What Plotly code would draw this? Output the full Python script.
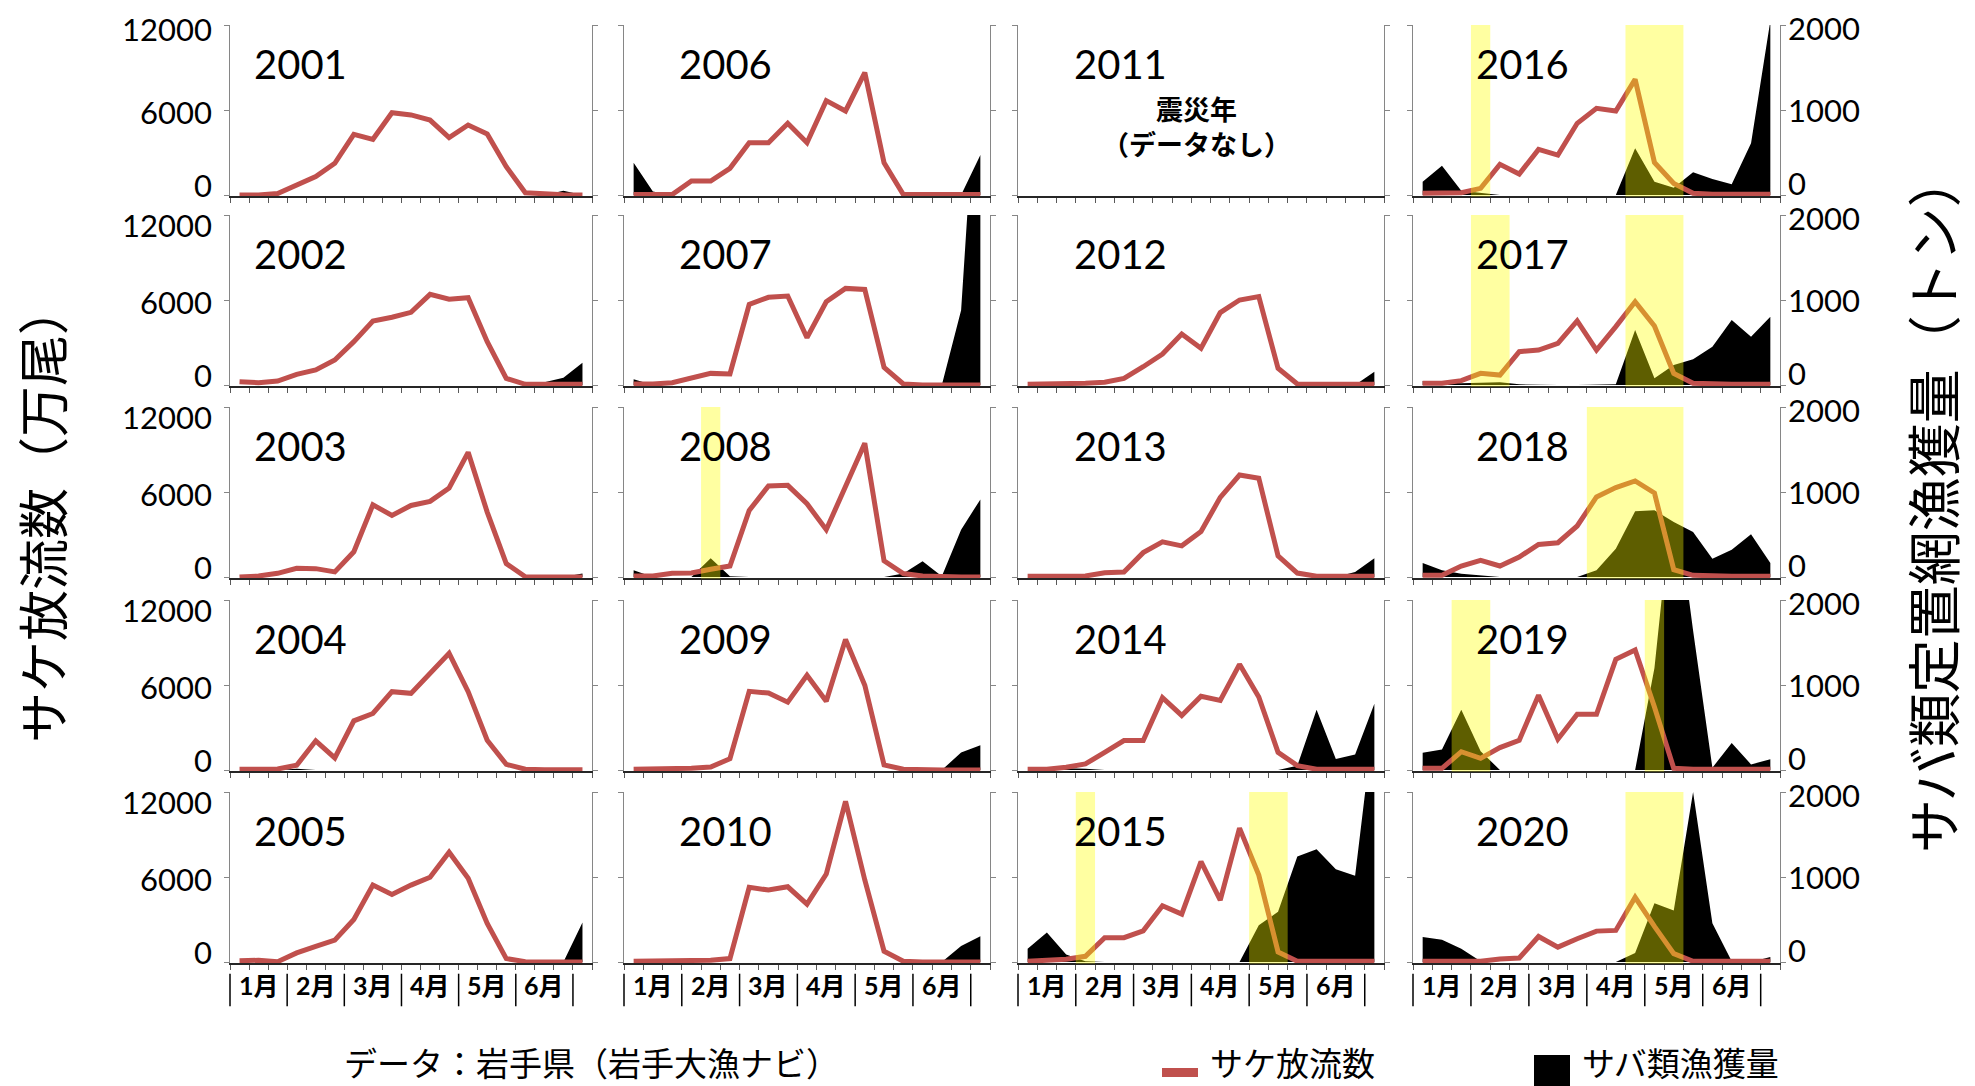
import plotly.graph_objects as go

# ---------------- data ----------------
# 19 ten-day periods: 1月上旬 ... 6月下旬, 7月上旬
categories = list(range(19))
month_labels = ["1月", "2月", "3月", "4月", "5月", "6月"]

salmon_2001 = [0, 0, 100, 700, 1300, 2240, 4280, 3930, 5810, 5650, 5290, 4050, 4940, 4310, 2000, 160, 70, 20, 0]
mackerel_2001 = [0, 0, 0, 0, 0, 0, 0, 0, 0, 0, 0, 0, 0, 0, 0, 0, 0, 50, 0]
salmon_2002 = [235, 165, 280, 750, 1060, 1760, 3060, 4520, 4780, 5130, 6400, 6050, 6160, 3060, 470, 50, 50, 50, 50]
mackerel_2002 = [0, 0, 0, 0, 0, 0, 0, 0, 0, 0, 0, 0, 0, 0, 0, 0, 31, 86, 263]
salmon_2003 = [0, 70, 260, 620, 590, 360, 1780, 5100, 4340, 5050, 5340, 6280, 8800, 4580, 950, 20, 0, 0, 0]
mackerel_2003 = [0, 0, 0, 0, 0, 0, 0, 0, 0, 0, 0, 0, 0, 0, 0, 0, 0, 0, 40]
salmon_2004 = [50, 90, 70, 330, 2060, 850, 3470, 3990, 5530, 5410, 6830, 8240, 5530, 2100, 400, 50, 20, 20, 20]
mackerel_2004 = [0, 0, 0, 15, 0, 0, 0, 0, 0, 0, 0, 0, 0, 0, 0, 0, 0, 0, 0]
salmon_2005 = [95, 120, 25, 640, 1110, 1540, 3000, 5430, 4770, 5430, 5980, 7750, 5910, 2720, 240, 25, 0, 0, 0]
mackerel_2005 = [0, 0, 0, 0, 0, 0, 0, 0, 0, 0, 0, 0, 0, 0, 0, 0, 0, 0, 465]

salmon_2006 = [30, 30, 30, 990, 990, 1880, 3690, 3690, 5060, 3690, 6660, 5930, 8640, 2280, 30, 30, 30, 30, 30]
mackerel_2006 = [380, 40, 0, 0, 0, 0, 0, 0, 0, 0, 0, 0, 0, 0, 0, 0, 0, 0, 470]
salmon_2007 = [70, 70, 165, 470, 820, 780, 5690, 6190, 6280, 3340, 5880, 6820, 6750, 1250, 70, 0, 0, 0, 0]
mackerel_2007 = [67, 0, 0, 0, 0, 0, 0, 0, 0, 0, 0, 0, 0, 0, 0, 0, 0, 880, 4380]
salmon_2008 = [70, 70, 260, 280, 545, 780, 4700, 6430, 6470, 5170, 3340, 6360, 9440, 1140, 240, 70, 0, 0, 0]
mackerel_2008 = [79, 0, 0, 0, 221, 10, 0, 0, 0, 0, 0, 0, 0, 0, 40, 186, 10, 557, 913]
salmon_2009 = [50, 50, 120, 120, 210, 800, 5550, 5430, 4790, 6690, 4860, 9220, 5980, 360, 50, 0, 0, 0, 0]
mackerel_2009 = [0, 0, 0, 0, 0, 0, 0, 0, 0, 0, 0, 0, 0, 0, 0, 0, 0, 205, 292]
salmon_2010 = [50, 50, 50, 50, 120, 240, 5270, 5080, 5310, 4090, 6210, 11340, 5790, 760, 50, 0, 0, 0, 0]
mackerel_2010 = [0, 0, 0, 0, 0, 0, 0, 0, 0, 0, 0, 0, 0, 0, 0, 0, 0, 189, 303]

salmon_2011 = []          # 震災年（データなし）
mackerel_2011 = []
salmon_2012 = [50, 50, 118, 118, 190, 470, 1290, 2190, 3600, 2590, 5110, 6000, 6240, 1180, 70, 50, 50, 50, 50]
mackerel_2012 = [0, 0, 0, 0, 0, 0, 0, 0, 0, 0, 0, 0, 0, 0, 0, 0, 0, 0, 157]
salmon_2013 = [50, 50, 70, 70, 300, 350, 1720, 2480, 2200, 3210, 5620, 7200, 6970, 1490, 280, 50, 50, 50, 50]
mackerel_2013 = [0, 0, 0, 0, 0, 0, 0, 0, 0, 0, 0, 0, 0, 0, 0, 0, 0, 59, 220]
salmon_2014 = [50, 50, 190, 425, 1250, 2080, 2080, 5100, 3850, 5200, 4910, 7460, 5150, 1250, 310, 50, 50, 50, 50]
mackerel_2014 = [0, 0, 20, 15, 0, 0, 0, 0, 0, 0, 0, 0, 0, 0, 50, 709, 130, 181, 780]
salmon_2015 = [50, 95, 190, 400, 1720, 1720, 2200, 3970, 3380, 7090, 4370, 9450, 6140, 710, 50, 50, 50, 50, 50]
mackerel_2015 = [157, 346, 87, 8, 0, 0, 0, 0, 0, 0, 0, 0, 433, 590, 1240, 1327, 1090, 1016, 2900]

salmon_2016 = [118, 118, 165, 470, 2165, 1480, 3220, 2820, 5060, 6120, 5930, 8160, 2300, 820, 118, 50, 50, 50, 50]
mackerel_2016 = [157, 345, 51, 27, 0, 0, 0, 0, 0, 0, 0, 549, 157, 86, 267, 188, 125, 608, 2050]
salmon_2017 = [118, 118, 305, 820, 700, 2350, 2470, 2940, 4520, 2470, 4120, 5880, 4160, 820, 118, 50, 50, 50, 50]
mackerel_2017 = [47, 31, 20, 27, 31, 8, 0, 0, 0, 0, 8, 647, 78, 235, 302, 451, 765, 569, 804]
salmon_2018 = [118, 118, 776, 1176, 776, 1410, 2300, 2420, 3600, 5650, 6310, 6780, 5930, 518, 118, 50, 50, 50, 50]
mackerel_2018 = [165, 78, 39, 20, 0, 0, 0, 0, 0, 78, 333, 773, 784, 647, 529, 216, 322, 502, 165]
salmon_2019 = [118, 118, 1290, 820, 1580, 2100, 5270, 2170, 3930, 3930, 7810, 8470, 4450, 118, 50, 50, 50, 50, 50]
mackerel_2019 = [202, 241, 708, 222, 0, 0, 0, 0, 0, 0, 0, 0, 1200, 3370, 1640, 27, 319, 66, 125]
salmon_2020 = [50, 50, 50, 50, 210, 280, 1800, 1050, 1640, 2180, 2230, 4570, 2510, 590, 50, 50, 50, 50, 50]
mackerel_2020 = [293, 262, 156, 8, 0, 0, 0, 0, 0, 0, 0, 105, 691, 605, 2000, 457, 8, 0, 59]

# highlighted periods (first category, last category)
bands_2008 = [(4, 4)]
bands_2015 = [(3, 3), (12, 13)]
bands_2016 = [(3, 3), (11, 13)]
bands_2017 = [(3, 4), (11, 13)]
bands_2018 = [(9, 13)]
bands_2019 = [(2, 3), (12, 12)]
bands_2020 = [(11, 13)]

salmon_ticks = [0, 6000, 12000]
mackerel_ticks = [0, 1000, 2000]

years = list(range(2001, 2021))
salmon = {y: globals()[f"salmon_{y}"] for y in years}
mackerel = {y: globals()[f"mackerel_{y}"] for y in years}
bands = {y: globals().get(f"bands_{y}", []) for y in years}

# ---------------- layout geometry ----------------
W, H = 1975, 1086
COL_L = [230, 624, 1018, 1413]
COL_R = [592, 990, 1384, 1780]
ROW_T = [25, 215, 407, 600, 792]
ROW_Z = [195, 385, 577, 770, 962]
S_MAX, S_MIN = 12000, -100
M_MAX = 2000
M_MIN = S_MIN * M_MAX / S_MAX
YEAR_X = [0.195, 0.278, 0.279, 0.298]

RED = "#C0504D"
BAND = "rgba(255,255,0,0.37)"
NUM_FONT = "Lato, Noto Sans, sans-serif"
JP_FONT = "Noto Sans CJK JP, sans-serif"


def ax_ref(letter, i):
    return letter if i == 1 else f"{letter}{i}"


def ax_key(letter, i):
    return f"{letter}axis" if i == 1 else f"{letter}axis{i}"


fig = go.Figure()
layout = {}
shapes = []
annotations = []

for c in range(4):
    for r in range(5):
        year = 2001 + c * 5 + r
        p = c * 5 + r
        xi = p + 1
        mid = 2 * p + 1   # mackerel axis (base, right)
        sid = 2 * p + 2   # salmon axis (overlay, left)
        xr, mr, sr = ax_ref("x", xi), ax_ref("y", mid), ax_ref("y", sid)
        top, zero = ROW_T[r], ROW_Z[r]
        ppu = (zero - top) / S_MAX
        bottom = zero + (-S_MIN) * ppu
        ydom = [1 - bottom / H, 1 - top / H]

        layout[ax_key("x", xi)] = dict(
            domain=[COL_L[c] / W, COL_R[c] / W], anchor=mr,
            range=[-0.5, 18.5], showline=True, linecolor="#262626", linewidth=1.5,
            ticks="outside", ticklen=5, tickwidth=1, tickcolor="#595959",
            tickmode="array", tickvals=[b - 0.5 for b in range(20)],
            showticklabels=False, showgrid=False, zeroline=False, fixedrange=True)
        layout[ax_key("y", mid)] = dict(
            domain=ydom, anchor=xr, side="right", range=[M_MIN, M_MAX],
            tickmode="array", tickvals=mackerel_ticks, ticks="outside", ticklen=5,
            tickcolor="#868686", showline=True, linecolor="#868686", linewidth=1,
            showticklabels=False, showgrid=False, zeroline=False, fixedrange=True)
        layout[ax_key("y", sid)] = dict(
            domain=ydom, anchor=xr, side="left", overlaying=mr,
            range=[S_MIN, S_MAX], tickmode="array", tickvals=salmon_ticks,
            ticks="outside", ticklen=5, tickcolor="#868686", showline=True,
            linecolor="#868686", linewidth=1, showticklabels=False,
            showgrid=False, zeroline=False, fixedrange=True)

        m = mackerel[year]
        s = salmon[year]
        fig.add_trace(go.Scatter(
            x=categories[:len(m)], y=m, xaxis=xr, yaxis=mr,
            mode="lines", line=dict(width=0, color="black"), fill="tozeroy",
            fillcolor="black", hoverinfo="skip", showlegend=False))
        fig.add_trace(go.Scatter(
            x=categories[:len(s)], y=s, xaxis=xr, yaxis=sr,
            mode="lines", line=dict(width=5, color=RED), hoverinfo="skip",
            showlegend=False))

        for a, b in bands[year]:
            shapes.append(dict(type="rect", xref=xr, yref=f"{sr} domain",
                               x0=a - 0.5, x1=b + 0.5, y0=0, y1=1,
                               fillcolor=BAND, line=dict(width=0), layer="above"))

        annotations.append(dict(
            text=str(year), xref=f"{xr} domain", yref=f"{sr} domain",
            x=YEAR_X[c], y=0.775, xanchor="center", yanchor="middle",
            showarrow=False, font=dict(family=NUM_FONT, size=40, color="black")))

        if c == 0:
            for v in salmon_ticks:
                shift = 10 if v == 0 else (-2 if v == 6000 else (-4 if r == 0 else -10))
                annotations.append(dict(
                    text=str(v), xref="paper", x=(COL_L[c] - 16) / W, xanchor="right",
                    yref=sr, y=v, yanchor="middle", yshift=shift,
                    showarrow=False, font=dict(family=NUM_FONT, size=31, color="black")))
        if c == 3:
            for v in mackerel_ticks:
                shift = 12 if v == 0 else (0 if v == 1000 else -3)
                annotations.append(dict(
                    text=str(v), xref="paper", x=(COL_R[c] + 6) / W, xanchor="left",
                    yref=mr, y=v, yanchor="middle", yshift=shift,
                    showarrow=False, font=dict(family=NUM_FONT, size=31, color="black")))

        if r == 4:
            for k, lab in enumerate(month_labels):
                annotations.append(dict(
                    text=f"<b>{lab}</b>", xref=xr, yref=f"{sr} domain",
                    x=3 * k + 1, y=-0.125, xanchor="center", yanchor="middle",
                    showarrow=False,
                    font=dict(family="Lato, Noto Sans CJK JP, sans-serif", size=25, color="black")))
            for b in range(0, 19, 3):
                shapes.append(dict(type="line", xref=f"{xr} domain", yref=f"{sr} domain",
                                   x0=b / 19, x1=b / 19, y0=-0.06, y1=-0.25,
                                   line=dict(color="black", width=1.5)))

        if year == 2011:
            annotations.append(dict(
                text="<b>震災年<br>（データなし）</b>", xref=f"{xr} domain", yref=f"{sr} domain",
                x=0.489, y=0.41, xanchor="center", yanchor="middle", align="center",
                showarrow=False, font=dict(family=JP_FONT, size=27, color="black")))

# axis titles
annotations.append(dict(text="サケ放流数（万尾）", xref="paper", yref="paper",
                        x=41 / W, y=1 - 514 / H, textangle=-90, showarrow=False,
                        xanchor="center", yanchor="middle",
                        font=dict(family=JP_FONT, size=51, color="black")))
annotations.append(dict(text="サバ類定置網漁獲量（トン）", xref="paper", yref="paper",
                        x=1931 / W, y=1 - 503 / H, textangle=-90, showarrow=False,
                        xanchor="center", yanchor="middle",
                        font=dict(family=JP_FONT, size=54, color="black")))

# source and legend
annotations.append(dict(text="データ：岩手県（岩手大漁ナビ）", xref="paper", yref="paper",
                        x=342 / W, y=1 - 1062 / H, xanchor="left", yanchor="middle",
                        showarrow=False, font=dict(family=JP_FONT, size=33, color="black")))
shapes.append(dict(type="rect", xref="paper", yref="paper",
                   x0=1162 / W, x1=1198 / W, y0=1 - 1077 / H, y1=1 - 1068 / H,
                   fillcolor=RED, line=dict(width=0)))
annotations.append(dict(text="サケ放流数", xref="paper", yref="paper",
                        x=1208 / W, y=1 - 1062 / H, xanchor="left", yanchor="middle",
                        showarrow=False, font=dict(family=JP_FONT, size=33, color="black")))
shapes.append(dict(type="rect", xref="paper", yref="paper",
                   x0=1534 / W, x1=1570 / W, y0=1 - 1092 / H, y1=1 - 1055 / H,
                   fillcolor="black", line=dict(width=0)))
annotations.append(dict(text="サバ類漁獲量", xref="paper", yref="paper",
                        x=1580 / W, y=1 - 1062 / H, xanchor="left", yanchor="middle",
                        showarrow=False, font=dict(family=JP_FONT, size=33, color="black")))

fig.update_layout(
    width=W, height=H, margin=dict(l=0, r=0, t=0, b=0),
    paper_bgcolor="white", plot_bgcolor="white", showlegend=False,
    shapes=shapes, annotations=annotations, **layout)

fig.write_html("out.html")
